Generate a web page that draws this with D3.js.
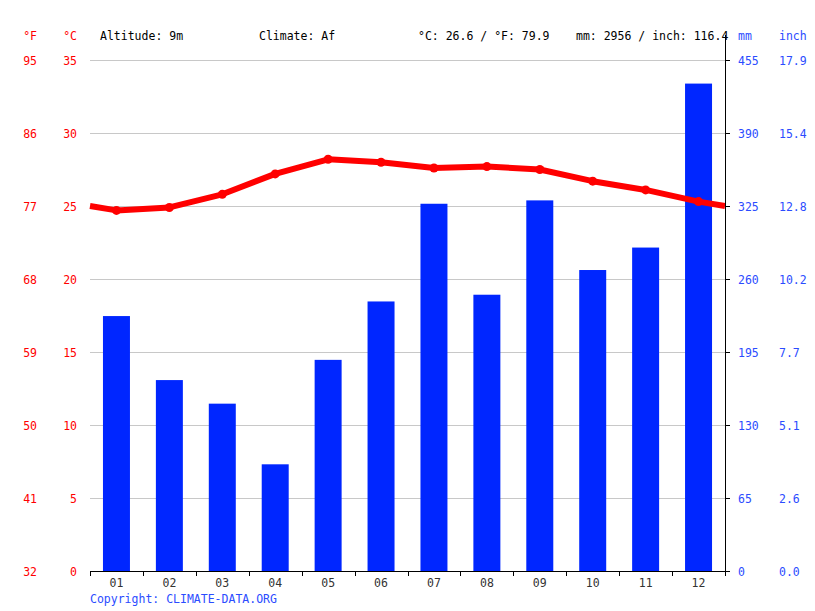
<!DOCTYPE html>
<html><head><meta charset="utf-8">
<script src="https://cdn.jsdelivr.net/npm/d3@7"></script>
<style>body{margin:0;background:#fff}svg{display:block}text{font-family:"DejaVu Sans Mono",monospace;font-size:11.5px}</style>
</head><body>
<svg id="c" width="815" height="611"></svg>
<script>
const months = ["01","02","03","04","05","06","07","08","09","10","11","12"];
const precipMM = [227,170,149,95,188,240,327,246,330,268,288,434];
const tempC = [24.7,24.9,25.8,27.2,28.2,28.0,27.6,27.7,27.5,26.7,26.1,25.3];
const cTicks = [0,5,10,15,20,25,30,35];
const fTicks = ["32","41","50","59","68","77","86","95"];
const mmTicks = [0,65,130,195,260,325,390,455];
const inchTicks = ["0.0","2.6","5.1","7.7","10.2","12.8","15.4","17.9"];
const header = {alt:"Altitude: 9m", climate:"Climate: Af", temp:"°C: 26.6 / °F: 79.9", rain:"mm: 2956 / inch: 116.4"};

const svg = d3.select("#c");
const L=90, R=725, T=60, B=571;
const x = d3.scaleBand().domain(months).range([L,R]).paddingInner(0.49).paddingOuter(0.245);
const xb = d3.scaleBand().domain(months).range([L,R]);
const yT = d3.scaleLinear().domain([0,35]).range([B,T]);
const yP = d3.scaleLinear().domain([0,455]).range([B,T]);
const red="#ff0000", blue="#0026ff", tblue="#2b4cff";

// grid
svg.append("g").selectAll("line").data(cTicks.slice(1)).join("line")
  .attr("x1",L).attr("x2",R).attr("y1",d=>yT(d)+0.5).attr("y2",d=>yT(d)+0.5)
  .attr("stroke","#c8c8c8").attr("stroke-width",1);

// bars
svg.append("g").selectAll("rect").data(months).join("rect")
  .attr("x",d=>x(d)).attr("width",x.bandwidth())
  .attr("y",(d,i)=>yP(precipMM[i])).attr("height",(d,i)=>B-yP(precipMM[i]))
  .attr("fill",blue);

// temp line with wrap-around edges
const edge = (tempC[0]+tempC[11])/2;
const pts = [[L,yT(edge)]].concat(months.map((m,i)=>[xb(m)+xb.bandwidth()/2,yT(tempC[i])])).concat([[R,yT(edge)]]);
svg.append("path").attr("d",d3.line()(pts)).attr("fill","none").attr("stroke",red).attr("stroke-width",6).attr("stroke-linejoin","round");
svg.append("g").selectAll("circle").data(months).join("circle")
  .attr("cx",d=>xb(d)+xb.bandwidth()/2).attr("cy",(d,i)=>yT(tempC[i])).attr("r",4.5).attr("fill",red);

// bottom axis
const gx = svg.append("g").attr("transform",`translate(0,${B})`)
  .call(d3.axisBottom(xb).tickSize(0).tickPadding(0));
gx.select(".domain").remove();
gx.selectAll("text").attr("dy",null).attr("y",16).attr("fill","#333").style("font-size","11.5px").style("font-family","DejaVu Sans Mono");
svg.append("line").attr("x1",L).attr("x2",R+1).attr("y1",B+0.5).attr("y2",B+0.5).attr("stroke","#000");
svg.append("g").selectAll("line").data(d3.range(13)).join("line")
  .attr("x1",d=>Math.round(L+d*xb.bandwidth())+0.5).attr("x2",d=>Math.round(L+d*xb.bandwidth())+0.5)
  .attr("y1",B).attr("y2",B+5).attr("stroke","#000");

// right axis
svg.append("line").attr("x1",R+0.5).attr("x2",R+0.5).attr("y1",35).attr("y2",B+1).attr("stroke","#000");
svg.append("g").selectAll("line").data(mmTicks).join("line")
  .attr("x1",R).attr("x2",R+5).attr("y1",d=>yP(d)+0.5).attr("y2",d=>yP(d)+0.5).attr("stroke","#000");
svg.append("g").selectAll("text").data(mmTicks).join("text")
  .attr("x",738).attr("y",d=>yP(d)+5).attr("fill",tblue).text(d=>d);
svg.append("g").selectAll("text").data(inchTicks).join("text")
  .attr("x",779).attr("y",(d,i)=>yP(mmTicks[i])+5).attr("fill",tblue).text(d=>d);

// left labels
svg.append("g").selectAll("text").data(cTicks).join("text")
  .attr("x",77).attr("y",d=>yT(d)+5).attr("text-anchor","end").attr("fill",red).text(d=>d);
svg.append("g").selectAll("text").data(fTicks).join("text")
  .attr("x",37).attr("y",(d,i)=>yT(cTicks[i])+5).attr("text-anchor","end").attr("fill",red).text(d=>d);

// header
svg.append("text").attr("x",37).attr("y",40).attr("text-anchor","end").attr("fill",red).text("°F");
svg.append("text").attr("x",77).attr("y",40).attr("text-anchor","end").attr("fill",red).text("°C");
svg.append("text").attr("x",100).attr("y",40).attr("fill","#000").text(header.alt);
svg.append("text").attr("x",259).attr("y",40).attr("fill","#000").text(header.climate);
svg.append("text").attr("x",418).attr("y",40).attr("fill","#000").text(header.temp);
svg.append("text").attr("x",576).attr("y",40).attr("fill","#000").text(header.rain);
svg.append("text").attr("x",738).attr("y",40).attr("fill",tblue).text("mm");
svg.append("text").attr("x",779).attr("y",40).attr("fill",tblue).text("inch");
svg.append("text").attr("x",90).attr("y",603).attr("fill",tblue).text("Copyright: CLIMATE-DATA.ORG");
</script>
</body></html>
